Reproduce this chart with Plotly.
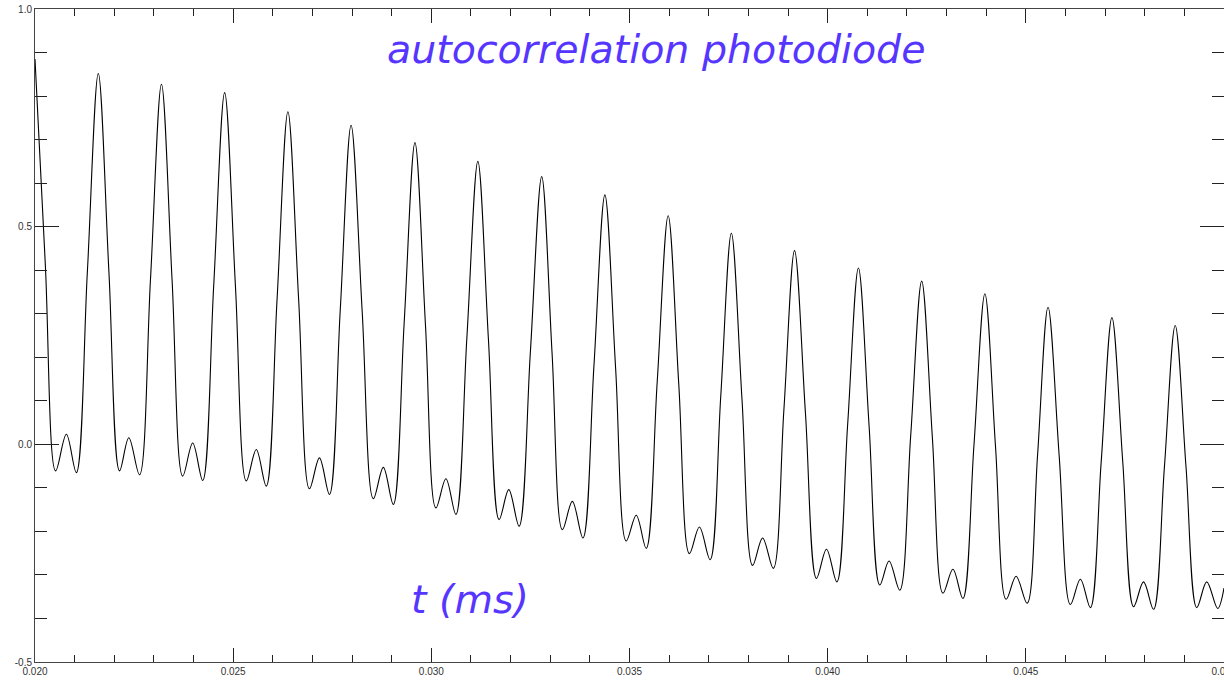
import plotly.graph_objects as go

# ---- data (time in ms, signal in arbitrary units) ----
peak_t = [0.020000, 0.021597, 0.023191, 0.024785, 0.026381, 0.027975, 0.029587,
          0.031174, 0.032785, 0.034379, 0.035976, 0.037570, 0.039164, 0.040776,
          0.042372, 0.043967, 0.045560, 0.047172, 0.048769]
peak_v = [0.885, 0.852, 0.827, 0.808, 0.764, 0.733, 0.693, 0.650, 0.615, 0.573,
          0.525, 0.485, 0.445, 0.405, 0.375, 0.346, 0.315, 0.291, 0.273]

trough1_t = [0.020521, 0.022133, 0.023727, 0.025331, 0.026925, 0.028537, 0.030116,
             0.031710, 0.033307, 0.034918, 0.036512, 0.038106, 0.039718, 0.041315,
             0.042909, 0.044503, 0.046124, 0.047719, 0.049313]
trough1_v = [-0.061, -0.061, -0.073, -0.084, -0.102, -0.125, -0.146, -0.173, -0.196,
             -0.222, -0.251, -0.278, -0.308, -0.323, -0.342, -0.356, -0.368, -0.373, -0.375]

bump_t = [0.020791, 0.022367, 0.023979, 0.025583, 0.027177, 0.028789, 0.030368,
          0.031954, 0.033558, 0.035170, 0.036764, 0.038358, 0.039970, 0.041549,
          0.043160, 0.044755, 0.046376, 0.047970, 0.049564]
bump_v = [0.023, 0.015, 0.003, -0.012, -0.031, -0.053, -0.079, -0.104, -0.131,
          -0.163, -0.190, -0.215, -0.241, -0.268, -0.287, -0.303, -0.310, -0.316, -0.316]

trough2_t = [0.021043, 0.022637, 0.024231, 0.025835, 0.027429, 0.029041, 0.030620,
             0.032214, 0.033825, 0.035422, 0.037034, 0.038628, 0.040232, 0.041818,
             0.043412, 0.045032, 0.046628, 0.048222, 0.049841]
trough2_v = [-0.065, -0.070, -0.083, -0.096, -0.115, -0.138, -0.161, -0.188, -0.215,
             -0.239, -0.265, -0.285, -0.316, -0.335, -0.354, -0.365, -0.375, -0.379, -0.377]

# mid-height points on the falling and rising flanks of each big peak
fall_t = [0.020261, 0.021865, 0.023459, 0.025058, 0.026653, 0.028256, 0.029852,
          0.031442, 0.033046, 0.034649, 0.036244, 0.037838, 0.039441, 0.041046,
          0.042641, 0.044235, 0.045842, 0.047446, 0.049041]
fall_v = [0.412, 0.396, 0.377, 0.362, 0.331, 0.304, 0.274, 0.239, 0.210, 0.176,
          0.137, 0.104, 0.069, 0.041, 0.017, -0.005, -0.027, -0.041, -0.051]

rise_t = [0.021320, 0.022914, 0.024508, 0.026108, 0.027702, 0.029314, 0.030897,
          0.032500, 0.034102, 0.035699, 0.037302, 0.038896, 0.040504, 0.042095,
          0.043690, 0.045296, 0.046900, 0.048496]
rise_v = [0.394, 0.379, 0.363, 0.334, 0.309, 0.278, 0.245, 0.214, 0.179, 0.143,
          0.110, 0.080, 0.045, 0.020, -0.004, -0.025, -0.042, -0.053]

end_t = [0.050000]
end_v = [-0.330]

x_ticks_major = [0.020, 0.025, 0.030, 0.035, 0.040, 0.045, 0.050]
x_tick_text = ["0.020", "0.025", "0.030", "0.035", "0.040", "0.045", "0.050"]
y_ticks_major = [-0.5, 0.0, 0.5, 1.0]
y_tick_text = ["-0.5", "0.0", "0.5", "1.0"]

# ---- assemble the trace ----
all_t = peak_t + trough1_t + bump_t + trough2_t + fall_t + rise_t + end_t
all_v = peak_v + trough1_v + bump_v + trough2_v + fall_v + rise_v + end_v
pairs = sorted(zip(all_t, all_v))
xs = [p[0] for p in pairs]
ys = [p[1] for p in pairs]

fig = go.Figure()
fig.add_trace(go.Scatter(
    x=xs, y=ys, mode="lines",
    line=dict(color="black", width=1.1, shape="spline", smoothing=1.0),
    hoverinfo="skip", showlegend=False,
))

tickfont = dict(family="Liberation Sans", size=10, color="#333333")
ink = "#222222"

fig.update_layout(
    width=1224, height=680,
    margin=dict(l=35, r=0, t=9, b=18, autoexpand=False),
    paper_bgcolor="white", plot_bgcolor="white",
    showlegend=False,
    xaxis=dict(
        range=[0.020, 0.050], automargin=False,
        tickmode="array", tickvals=x_ticks_major, ticktext=x_tick_text,
        ticks="inside", ticklen=14, tickwidth=1, tickcolor=ink,
        minor=dict(tickmode="linear", tick0=0.020, dtick=0.001, ticks="inside",
                   ticklen=7, tickwidth=1, tickcolor=ink, showgrid=False),
        showline=True, linecolor="#444444", linewidth=1, mirror="ticks",
        showgrid=False, zeroline=False,
        tickfont=tickfont, ticklabeloverflow="allow",
    ),
    yaxis=dict(
        range=[-0.5, 1.0], automargin=False,
        tickmode="array", tickvals=y_ticks_major, ticktext=y_tick_text,
        ticks="inside", ticklen=24, tickwidth=1, tickcolor=ink,
        minor=dict(tickmode="linear", tick0=0.0, dtick=0.1, ticks="inside",
                   ticklen=12, tickwidth=1, tickcolor=ink, showgrid=False),
        showline=True, linecolor="#444444", linewidth=1, mirror="ticks",
        showgrid=False, zeroline=False,
        tickfont=tickfont, ticklabeloverflow="allow",
    ),
)

label_font = dict(family="DejaVu Sans", size=39.5, color="#5636ff", style="italic")
fig.add_annotation(text="autocorrelation photodiode", xref="paper", yref="paper",
                   x=0.5223, y=0.9395, xanchor="center", yanchor="middle",
                   showarrow=False, font=label_font)
fig.add_annotation(text="t (ms)", xref="paper", yref="paper",
                   x=0.3659, y=0.0971, xanchor="center", yanchor="middle",
                   showarrow=False, font=label_font)

fig.write_html(
    "out.html",
    config={"displayModeBar": False},
    post_script="document.body.style.margin='0';document.body.style.overflow='hidden';",
)
